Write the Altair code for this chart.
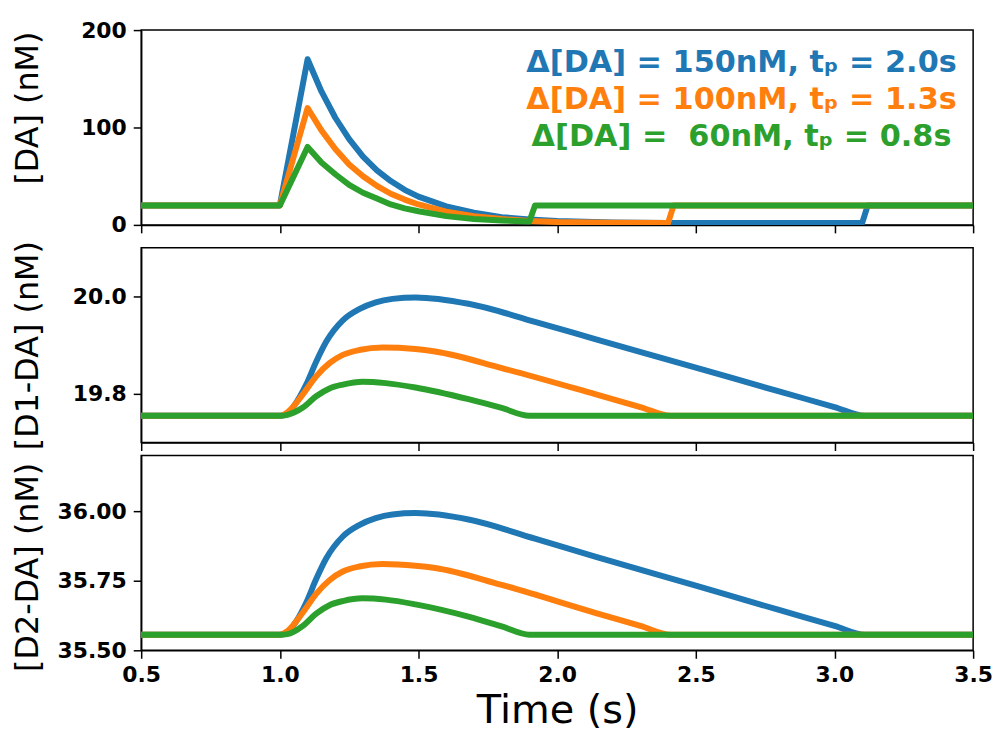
import altair as alt
import pandas as pd

# ---------------- data ----------------
# Panel 1: [DA] (nM)
da_blue_t = [0.5, 1.0, 1.1, 1.15, 1.2, 1.25, 1.3, 1.35, 1.4, 1.45, 1.5, 1.6, 1.7, 1.8, 1.9, 2.0, 2.2, 2.4, 3.1, 3.12, 3.5]
da_blue_v = [20, 20, 170, 137, 110, 88, 70, 56, 45, 36, 29, 19, 12.5, 8, 5.5, 4, 2.5, 2, 2, 20, 20]
da_orange_t = [0.5, 1.0, 1.1, 1.15, 1.2, 1.25, 1.3, 1.35, 1.4, 1.45, 1.5, 1.6, 1.7, 1.8, 1.9, 2.0, 2.2, 2.4, 2.42, 3.5]
da_orange_v = [20, 20, 120, 97, 78, 62, 50, 40, 32, 26, 21, 13.5, 9, 6, 4, 3, 2.3, 2, 20, 20]
da_green_t = [0.5, 1.0, 1.1, 1.15, 1.2, 1.25, 1.3, 1.35, 1.4, 1.45, 1.5, 1.6, 1.7, 1.8, 1.9, 1.92, 3.5]
da_green_v = [20, 20, 80, 64, 52, 41, 33, 27, 21, 17, 14, 9, 6, 4.5, 3.5, 20, 20]

# Panel 2: [D1-DA] (nM)
d1_blue_t = [0.5, 1.0, 1.023, 1.059, 1.095, 1.131, 1.167, 1.227, 1.286, 1.346, 1.406, 1.49, 1.68, 1.92, 2.14, 2.5, 2.8, 3.0, 3.11, 3.5]
d1_blue_v = [19.755, 19.755, 19.758, 19.782, 19.819, 19.866, 19.907, 19.951, 19.974, 19.988, 19.995, 19.998, 19.985, 19.948, 19.912, 19.854, 19.805, 19.773, 19.755, 19.755]
d1_orange_t = [0.5, 1.0, 1.027, 1.083, 1.131, 1.179, 1.227, 1.286, 1.37, 1.489, 1.56, 1.8, 2.14, 2.3, 2.41, 3.5]
d1_orange_v = [19.755, 19.755, 19.762, 19.799, 19.836, 19.863, 19.880, 19.890, 19.895, 19.892, 19.887, 19.853, 19.799, 19.773, 19.755, 19.755]
d1_green_t = [0.5, 1.0, 1.027, 1.083, 1.131, 1.179, 1.227, 1.298, 1.382, 1.489, 1.68, 1.8, 1.9, 3.5]
d1_green_v = [19.755, 19.755, 19.757, 19.772, 19.795, 19.811, 19.819, 19.825, 19.822, 19.813, 19.789, 19.771, 19.755, 19.755]

# Panel 3: [D2-DA] (nM)
d2_blue_t = [0.5, 1.0, 1.023, 1.059, 1.095, 1.131, 1.167, 1.227, 1.286, 1.346, 1.406, 1.49, 1.68, 1.92, 2.14, 2.5, 2.8, 3.0, 3.11, 3.5]
d2_blue_v = [35.556, 35.556, 35.561, 35.604, 35.671, 35.756, 35.830, 35.909, 35.950, 35.975, 35.988, 35.993, 35.970, 35.901, 35.836, 35.732, 35.645, 35.588, 35.556, 35.556]
d2_orange_t = [0.5, 1.0, 1.027, 1.083, 1.131, 1.179, 1.227, 1.286, 1.37, 1.489, 1.56, 1.8, 2.14, 2.3, 2.41, 3.5]
d2_orange_v = [35.556, 35.556, 35.569, 35.636, 35.703, 35.752, 35.783, 35.801, 35.810, 35.804, 35.796, 35.735, 35.634, 35.588, 35.556, 35.556]
d2_green_t = [0.5, 1.0, 1.027, 1.083, 1.131, 1.179, 1.227, 1.298, 1.382, 1.489, 1.68, 1.8, 1.9, 3.5]
d2_green_v = [35.556, 35.556, 35.558, 35.588, 35.632, 35.662, 35.677, 35.687, 35.682, 35.665, 35.621, 35.586, 35.556, 35.556]

legend_labels = [
    "\u0394[DA] = 150nM, t\u209a = 2.0s",
    "\u0394[DA] = 100nM, t\u209a = 1.3s",
    "\u0394[DA] =\u00a0 60nM, t\u209a = 0.8s",
]
colors = ["#1f77b4", "#ff7f0e", "#2ca02c"]

x_ticks = [0.5, 1.0, 1.5, 2.0, 2.5, 3.0, 3.5]
y1_ticks = [0, 100, 200]
y2_ticks = [19.8, 20.0]
y3_ticks = [35.50, 35.75, 36.00]

FONT = "DejaVu Sans"
W = 837
H = 196
SW = 6


def series_df(t, v):
    return pd.DataFrame({"t": t, "v": v})


def panel(series, ydomain, yticks, yfmt, ytitle, bottom, interp, title_y):
    layers = []
    for (t, v), col in zip(series, colors):
        xenc = alt.X(
            "t:Q",
            scale=alt.Scale(domain=[0.5, 3.5], nice=False, zero=False),
            axis=alt.Axis(values=x_ticks, format=".1f", labels=bottom,
                          labelFlush=False, labelPadding=6, titlePadding=6),
            title="Time (s)" if bottom else None,
        )
        yenc = alt.Y(
            "v:Q",
            scale=alt.Scale(domain=ydomain, nice=False, zero=False),
            axis=alt.Axis(values=yticks, format=yfmt, titleX=-97, titleY=title_y,
                          labelPadding=7),
            title=ytitle,
        )
        layers.append(
            alt.Chart(series_df(t, v))
            .mark_line(color=col, strokeWidth=SW, interpolate=interp, clip=True,
                       strokeJoin="round", strokeCap="butt")
            .encode(x=xenc, y=yenc)
        )
    return layers


p1_layers = panel(
    [(da_blue_t, da_blue_v), (da_orange_t, da_orange_v), (da_green_t, da_green_v)],
    [0, 200], y1_ticks, "d", "[DA] (nM)", False, "linear", 78,
)
legend_y = [42, 79, 117]
for lab, col, yy in zip(legend_labels, colors, legend_y):
    p1_layers.append(
        alt.Chart(alt.Data(values=[{}]))
        .mark_text(text=lab, color=col, font=FONT, fontSize=30.5, fontWeight="bold",
                   align="center", baseline="alphabetic", x=604, y=yy)
    )
p1 = alt.layer(*p1_layers).properties(width=W, height=H)

p2 = alt.layer(*panel(
    [(d1_blue_t, d1_blue_v), (d1_orange_t, d1_orange_v), (d1_green_t, d1_green_v)],
    [19.70, 20.10], y2_ticks, ".1f", "[D1-DA] (nM)", False, "monotone", 98,
)).properties(width=W, height=H)

p3 = alt.layer(*panel(
    [(d2_blue_t, d2_blue_v), (d2_orange_t, d2_orange_v), (d2_green_t, d2_green_v)],
    [35.50, 36.20], y3_ticks, ".2f", "[D2-DA] (nM)", True, "monotone", 112,
)).properties(width=W, height=H)

chart = (
    alt.vconcat(p1, p2, p3, spacing=2)
    .properties(padding={"left": 3, "top": 8, "right": 0, "bottom": 2})
    .configure_axis(
        labelFont=FONT, labelFontSize=22, labelFontWeight="bold", labelColor="black",
        titleFont=FONT, titleFontSize=32, titleFontWeight="normal", titleColor="black",
        domainColor="black", domainWidth=1.5, tickColor="black", tickWidth=1.5,
        tickSize=8, grid=False,
    )
    .configure_axisX(titleFontSize=40)
    .configure_view(stroke="black", strokeWidth=1.5)
)

chart.save("out.html", embed_options={"renderer": "svg", "actions": False})
